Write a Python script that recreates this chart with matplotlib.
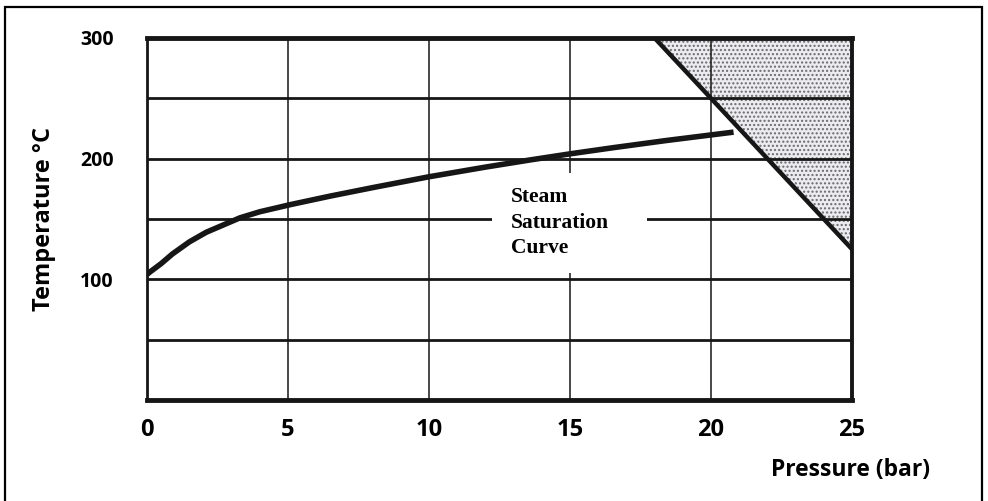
import matplotlib
matplotlib.use("Agg")
import matplotlib.pyplot as plt
from matplotlib.patches import Rectangle, Polygon
import numpy as np

# saturation curve (pressure in bar, temperature in C)
sat_pressure = [0.0, 0.1, 0.5, 0.9, 1.5, 2.1, 2.7, 3.3, 4.0, 5.1, 6.5, 8.0,
                10.0, 12.0, 13.6, 15.0, 16.5, 18.4, 20.8]
sat_temp = [104, 106, 113, 121, 131, 139, 145, 151, 156, 162, 169, 176,
            185, 193, 199, 204, 209, 215, 222]

# boundary of the shaded region
limit_pressure = [18.0, 25.0]
limit_temp = [300, 125]

x_ticks = [0, 5, 10, 15, 20, 25]
y_ticks = [0, 50, 100, 150, 200, 250, 300]
y_tick_labels = ['', '', '100', '', '200', '', '300']
label_lines = ["Steam", "Saturation", "Curve"]

ink = '#161616'
sans = ['Open Sans', 'DejaVu Sans']

fig = plt.figure(figsize=(9.88, 5.01), dpi=100)
ax = fig.add_axes([147 / 988, 101 / 501, 705 / 988, 362 / 501])
ax.set_xlim(0, 25)
ax.set_ylim(0, 300)

# outer frame around the whole picture
fig.patches.append(Rectangle((5 / 988, -0.02), 977 / 988, 1.02 - 7 / 501,
                             transform=fig.transFigure, fill=False,
                             edgecolor='black', linewidth=1.6))

# gridlines
for yv in y_ticks[1:-1]:
    ax.axhline(yv, color=ink, linewidth=2.0, zorder=2)
for xv in x_ticks[1:-1]:
    ax.axvline(xv, color=ink, linewidth=1.1, zorder=2)

for side in ['top', 'bottom']:
    ax.spines[side].set_linewidth(3.5)
    ax.spines[side].set_color(ink)
ax.spines['left'].set_linewidth(2.0)
ax.spines['right'].set_linewidth(2.8)
for side in ['left', 'right']:
    ax.spines[side].set_color(ink)

# shaded region right of the limit line
shade = Polygon([(limit_pressure[0], limit_temp[0]), (25, 300), (limit_pressure[1], limit_temp[1])],
                closed=True, facecolor='#ebebf0', edgecolor='#6a6a6a', hatch='....',
                linewidth=0, zorder=1)
ax.add_patch(shade)
ax.plot(limit_pressure, limit_temp, color=ink, linewidth=3.2, zorder=4)

ax.plot(sat_pressure, sat_temp, color=ink, linewidth=4.0, zorder=4,
        solid_capstyle='butt', solid_joinstyle='round')

# white label box covering the grid
ax.add_patch(Rectangle((12.24, 105.5), 5.5, 82.5, facecolor='white',
                       edgecolor='none', zorder=3))
for i, line in enumerate(label_lines):
    ax.text(12.9, 168 - i * 21, line, family=['Liberation Serif', 'DejaVu Serif'],
            fontweight='bold', fontsize=15.5, va='center', ha='left', zorder=5)

ax.set_xticks(x_ticks)
ax.set_xticklabels([str(v) for v in x_ticks], family=sans, fontweight='bold', fontsize=17)
ax.set_yticks(y_ticks)
ax.set_yticklabels(y_tick_labels, family=sans, fontweight='bold', fontsize=14)
ax.tick_params(axis='x', length=0, pad=13)
ax.tick_params(axis='y', length=0, pad=24)

fig.text(44 / 988, 1 - 219 / 501, "Temperature °C", rotation=90, family=sans,
         fontweight='bold', fontsize=17, ha='center', va='center')
fig.text(930 / 988, 1 - 470 / 501, "Pressure (bar)", family=sans,
         fontweight='bold', fontsize=16.5, ha='right', va='center')

fig.savefig('out.png', dpi=100)
